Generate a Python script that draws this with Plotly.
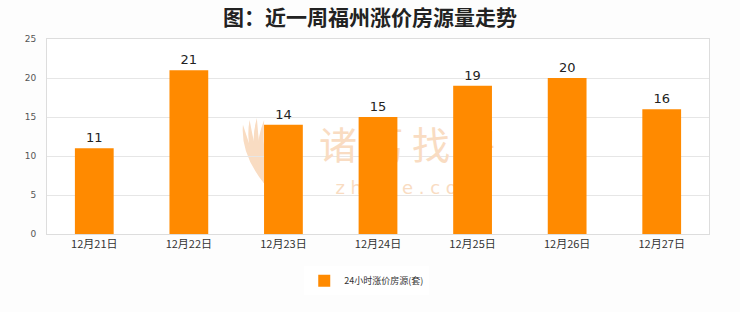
import plotly.graph_objects as go

dates = ["12月21日", "12月22日", "12月23日", "12月24日", "12月25日", "12月26日", "12月27日"]
counts = [11, 21, 14, 15, 19, 20, 16]
series_name = "24小时涨价房源(套)"
chart_title = "图：近一周福州涨价房源量走势"
y_ticks = [0, 5, 10, 15, 20, 25]
brand_name = "诸 葛 找 房"
brand_site = "z h u g e . c o m"

BAR = "#ff8a00"
MARK = "#f9dcc2"
FONT = "Noto Sans CJK SC, DejaVu Sans, sans-serif"

fig = go.Figure()

# watermark lives on the base axes so the bars (overlay axes) cover it
fig.add_trace(go.Scatter(
    x=[0.545], y=[0.435], mode="text", text=[brand_name], showlegend=False,
    hoverinfo="skip", xaxis="x", yaxis="y",
    textfont=dict(size=38, color=MARK, family=FONT),
))
fig.add_trace(go.Scatter(
    x=[0.545], y=[0.23], mode="text", text=[brand_site], showlegend=False,
    hoverinfo="skip", xaxis="x", yaxis="y",
    textfont=dict(size=18, color=MARK, family="DejaVu Sans, sans-serif"),
))

# feather-like logo left of the watermark text: thin petals fanning from one base
petal_tops = [(0.296, 0.56), (0.306, 0.585), (0.317, 0.595), (0.328, 0.585), (0.338, 0.56)]
base_x, base_y = 0.33, 0.25
for tx, ty in petal_tops:
    mx = (tx + base_x) / 2 - 0.012
    my = (ty + base_y) / 2
    path = (f"M {base_x} {base_y} "
            f"Q {mx - 0.009} {my} {tx} {ty} "
            f"Q {mx + 0.009} {my} {base_x} {base_y} Z")
    fig.add_shape(type="path", xref="paper", yref="paper", layer="below",
                  path=path, fillcolor=MARK, line=dict(width=0))

fig.add_trace(go.Bar(
    x=dates, y=counts, name=series_name,
    xaxis="x2", yaxis="y2",
    marker=dict(color=BAR, line=dict(width=0)),
    width=0.41,
    text=counts, textposition="outside",
    textfont=dict(size=13, color="#222222", family="DejaVu Sans, sans-serif"),
    cliponaxis=False,
))

fig.update_layout(
    width=740, height=312,
    margin=dict(l=47, r=31, t=39, b=78),
    paper_bgcolor="#fdfdfd", plot_bgcolor="#ffffff",
    title=dict(text="<b>" + chart_title + "</b>", x=0.5, xanchor="center",
               y=0.945, yanchor="middle",
               font=dict(size=21, color="#222222", family=FONT)),
    showlegend=True,
    legend=dict(orientation="h", x=0.483, xanchor="center", y=-0.24, yanchor="middle",
                font=dict(size=9, color="#333333", family=FONT),
                bgcolor="#ffffff", itemwidth=30),
    bargap=0.59,
    font=dict(family=FONT),
    xaxis=dict(range=[0, 1], visible=False, fixedrange=True),
    yaxis=dict(range=[0, 1], visible=False, fixedrange=True),
    xaxis2=dict(
        overlaying="x", anchor="y2",
        showline=True, linecolor="#dddddd", linewidth=1, mirror=True,
        ticks="", tickfont=dict(size=11, color="#333333", family=FONT),
        showgrid=False,
    ),
    yaxis2=dict(
        overlaying="y", anchor="x2", side="left",
        range=[0, 25], tickvals=y_ticks,
        showline=True, linecolor="#dddddd", linewidth=1, mirror=True,
        gridcolor="#e6e6e6", gridwidth=1, zeroline=False,
        tickfont=dict(size=9, color="#555555", family="DejaVu Sans, sans-serif"),
        ticks="", ticklabelstandoff=8,
    ),
)

fig.write_html("out.html")
